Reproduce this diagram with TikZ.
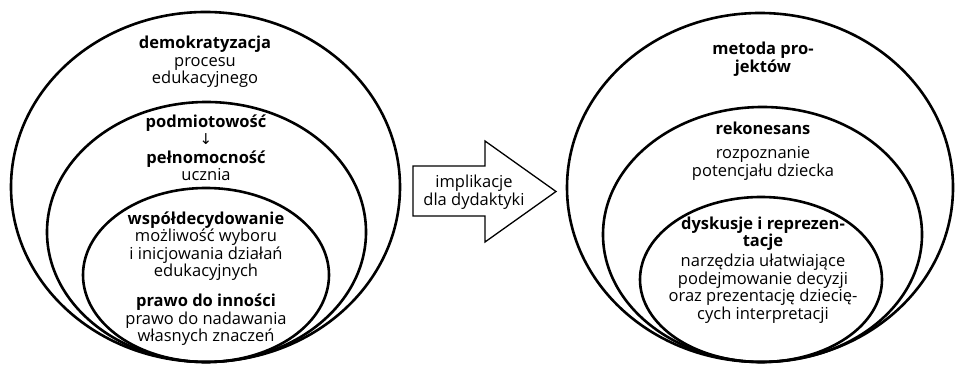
\documentclass[tikz,border=0pt]{standalone}
\usepackage{fontspec}
\setmainfont{Open Sans}
\newfontfamily\pfeilfont{DejaVu Sans}
\usetikzlibrary{shapes.geometric}

\tikzset{
    oval/.style = {draw, ellipse, line width=2.6pt, inner sep=0pt},
    txt/.style = {align=center, inner sep=0pt, black, font={\fontsize{16.5}{17.5}\selectfont}},
}

\begin{document}
\begin{tikzpicture}[x=1pt, y=1pt]
            \useasboundingbox (0,0) rectangle (955,364);

            % left side
            \node[oval, minimum width=389pt, minimum height=350pt] (outerL) at (205.5,177) {};
            \node[oval, minimum width=319pt, minimum height=260pt] (middleL) at (206.5,132) {};
            \node[oval, minimum width=246pt, minimum height=174pt] (innerL) at (206,89) {};

            \node[txt] (demo) at (205,302) {\textbf{demokratyzacja}\\procesu\\edukacyjnego};
            \node[txt] (podm) at (206,241) {\textbf{podmiotowość}};
            \node[txt, font={\pfeilfont\fontsize{15}{15}\selectfont}] (strz) at (206,224.5) {↓};
            \node[txt] (pelno) at (206,198) {\textbf{pełnomocność}\\ucznia};
            \node[txt] (wspol) at (206,118) {\textbf{współdecydowanie}\\możliwość wyboru\\i inicjowania działań\\edukacyjnych};
            \node[txt] (prawo) at (206,44) {\textbf{prawo do inności}\\prawo do nadawania\\własnych znaczeń};

            % arrow
            \draw[line width=1.3pt, line join=miter] (413,148) -- (413,198) -- (485,198) -- (485,223)
                -- (556,172.5) -- (485,122) -- (485,148) -- cycle;
            \node[txt] (impl) at (474,172) {implikacje\\dla dydaktyki};

            % right side
            \node[oval, minimum width=386pt, minimum height=349pt] (outerR) at (760,176.5) {};
            \node[oval, minimum width=319pt, minimum height=255pt] (middleR) at (762.5,129.5) {};
            \node[oval, minimum width=242pt, minimum height=165pt] (innerR) at (761,84.5) {};

            \node[txt] (metoda) at (763,305) {\textbf{metoda pro-}\\\textbf{jektów}};
            \node[txt] (rekon) at (763,236) {\textbf{rekonesans}};
            \node[txt] (rozp) at (763,200.5) {rozpoznanie\\potencjału dziecka};
            \node[txt] (dysk) at (763,130.5) {\textbf{dyskusje i reprezen-}\\\textbf{tacje}};
            \node[txt] (narz) at (763,75.5) {narzędzia ułatwiające\\podejmowanie decyzji\\oraz prezentację dziecię-\\cych interpretacji};
        \end{tikzpicture}
\end{document}
